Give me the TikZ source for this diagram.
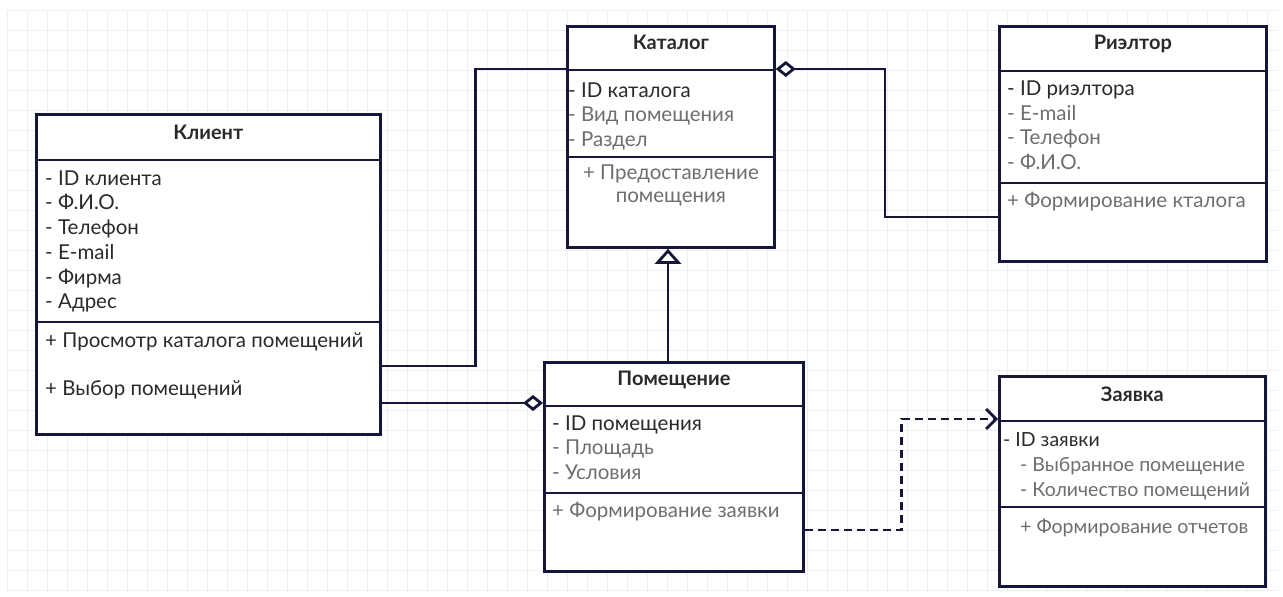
\documentclass[tikz,border=0pt]{standalone}
\usepackage{fontspec}
\setmainfont{Lato}
\usetikzlibrary{arrows.meta,calc}

\definecolor{ink}{HTML}{16163A}
\definecolor{txtdark}{HTML}{2A2A2A}
\definecolor{txtgray}{HTML}{6E6E6E}
\definecolor{gridc}{HTML}{EFEFF3}

\tikzset{
  x=1pt, y=-1pt,
  classbox/.style={draw=ink, line width=2.8pt, fill=white, inner sep=0pt, anchor=north west},
  sepline/.style={draw=ink, line width=2.8pt},
  link/.style={draw=ink, line width=2.8pt},
  depend/.style={draw=ink, line width=2.8pt, dash pattern=on 8pt off 5pt},
  title/.style={font=\fontsize{20}{22}\selectfont\bfseries, text=txtdark, inner sep=0pt,
                text height=14pt, text depth=5pt},
  member/.style={font=\fontsize{20.5}{22}\selectfont, inner sep=0pt, anchor=west,
                 text height=14pt, text depth=5pt},
  dk/.style={member, text=txtdark},
  gr/.style={member, text=txtgray},
  narrow/.style={font=\fontsize{19.5}{22}\selectfont},
  aggr/.style={-{Diamond[open, length=20pt, width=16pt, line width=2.8pt]}},
  inherit/.style={-{Triangle[open, length=15pt, width=26pt, line width=2.8pt]}},
  openhead/.style={-{Straight Barb[length=10pt, width=20pt, line width=2.8pt]}},
}

\begin{document}
\begin{tikzpicture}
\useasboundingbox (0,0) rectangle (1283,597);
\fill[white] (0,0) rectangle (1283,597);

% faint drafting grid
\foreach \gx in {7,27,...,1278} \draw[gridc, line width=0.6pt] (\gx,10) -- (\gx,592);
\foreach \gy in {10,30,...,592} \draw[gridc, line width=0.6pt] (7,\gy) -- (1278,\gy);

% ---------- class boxes ----------
\node[classbox, minimum width=344, minimum height=320] (klient) at (35,113) {};
\node[classbox, minimum width=207, minimum height=221] (katalog) at (566,25) {};
\node[classbox, minimum width=267, minimum height=235] (rieltor) at (998,25) {};
\node[classbox, minimum width=259, minimum height=209] (pom) at (543,361) {};
\node[classbox, minimum width=266, minimum height=210] (zayavka) at (998,375) {};

% compartment separators
\draw[sepline] ($(klient.north west)+(0,47)$) -- ($(klient.north east)+(0,47)$);
\draw[sepline] ($(klient.north west)+(0,209)$) -- ($(klient.north east)+(0,209)$);
\draw[sepline] ($(katalog.north west)+(0,45)$) -- ($(katalog.north east)+(0,45)$);
\draw[sepline] ($(katalog.north west)+(0,132)$) -- ($(katalog.north east)+(0,132)$);
\draw[sepline] ($(rieltor.north west)+(0,46)$) -- ($(rieltor.north east)+(0,46)$);
\draw[sepline] ($(rieltor.north west)+(0,158)$) -- ($(rieltor.north east)+(0,158)$);
\draw[sepline] ($(pom.north west)+(0,45)$) -- ($(pom.north east)+(0,45)$);
\draw[sepline] ($(pom.north west)+(0,132)$) -- ($(pom.north east)+(0,132)$);
\draw[sepline] ($(zayavka.north west)+(0,46)$) -- ($(zayavka.north east)+(0,46)$);
\draw[sepline] ($(zayavka.north west)+(0,132)$) -- ($(zayavka.north east)+(0,132)$);

% ---------- titles ----------
\node[title] (klientT) at ($(klient.north)+(0,22)$) {Клиент};
\node[title] (katalogT) at ($(katalog.north)+(0,20)$) {Каталог};
\node[title] (rieltorT) at ($(rieltor.north)+(0,20)$) {Риэлтор};
\node[title] (pomT) at ($(pom.north)+(0,20)$) {Помещение};
\node[title] (zayavkaT) at ($(zayavka.north)+(0,22)$) {Заявка};

% ---------- Клиент ----------
\foreach \s/\t [count=\i] in {dk/- ID клиента, dk/- Ф.И.О., dk/- Телефон,
                             dk/- E-mail, dk/- Фирма, dk/- Адрес}
  \node[\s] (ka\i) at ($(klient.north west)+(10,43+24.7*\i)$) {\t};
\node[dk] (km1) at ($(klient.north west)+(10,230)$) {+ Просмотр каталога помещений};
\node[dk] (km2) at ($(klient.north west)+(10,278)$) {+ Выбор помещений};

% ---------- Каталог ----------
\foreach \s/\t [count=\i] in {dk/- ID каталога, gr/- Вид помещения, gr/- Раздел}
  \node[\s] (ca\i) at ($(katalog.north west)+(2,43+24.6*\i)$) {\t};
\node[gr, anchor=north, align=center, font=\fontsize{20.5}{23}\selectfont,
      text height=, text depth=] (cm1)
  at ($(katalog.north)+(0,140)$) {+ Предоставление\\помещения};

% ---------- Риэлтор ----------
\foreach \s/\t [count=\i] in {dk/- ID риэлтора, gr/- E-mail, gr/- Телефон, gr/- Ф.И.О.}
  \node[\s] (ra\i) at ($(rieltor.north west)+(9,42+24.4*\i)$) {\t};
\node[gr] (rm1) at ($(rieltor.north west)+(9,178)$) {+ Формирование кталога};

% ---------- Помещение ----------
\foreach \s/\t [count=\i] in {dk/- ID помещения, gr/- Площадь, gr/- Условия}
  \node[\s] (pa\i) at ($(pom.north west)+(9,40+24.7*\i)$) {\t};
\node[gr] (pm1) at ($(pom.north west)+(9,152)$) {+ Формирование заявки};

% ---------- Заявка ----------
\node[dk, narrow] (za1) at ($(zayavka.north west)+(5,67)$) {- ID заявки};
\node[gr, narrow] (za2) at ($(zayavka.north west)+(22,92)$) {- Выбранное помещение};
\node[gr, narrow] (za3) at ($(zayavka.north west)+(22,117)$) {- Количество помещений};
\node[gr, narrow] (zm1) at ($(zayavka.north west)+(22,154)$) {+ Формирование отчетов};

% ---------- relations ----------
% Клиент -- Каталог (association)
\draw[link] ($(klient.north east)+(0,253)$) -- ++(94,0)
  |- ($(katalog.north west)+(0,44)$);
% Риэлтор -- Каталог (aggregation, diamond at Каталог)
\draw[link, aggr] ($(rieltor.north west)+(0,192)$) -- ++(-113,0)
  |- ($(katalog.north east)+(0,44)$);
% Клиент -- Помещение (aggregation, diamond at Помещение)
\coordinate (pomIn) at ($(pom.north west)+(0,42)$);
\draw[link, aggr] (klient.east |- pomIn) -- (pomIn);
% Помещение generalises to Каталог
\draw[link, inherit] (pom.north -| 668,0) -- (katalog.south -| 668,0);
% Помещение ..> Заявка (dependency)
\draw[depend, openhead] ($(pom.north east)+(0,169)$) -- ++(97,0)
  |- ($(zayavka.north west)+(0,44)$);
\end{tikzpicture}
\end{document}
